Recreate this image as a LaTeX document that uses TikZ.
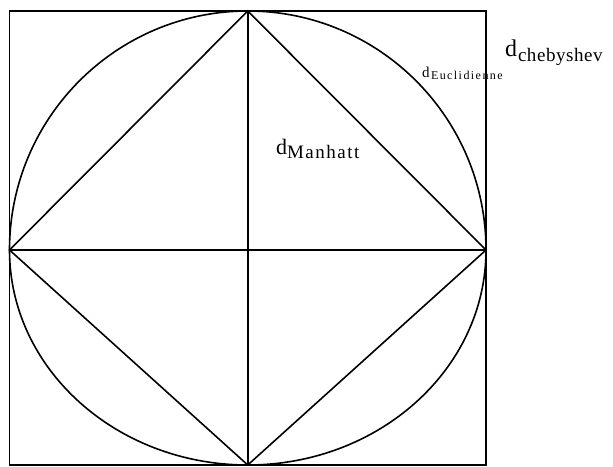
\documentclass[tikz,border=0pt]{standalone}
\usepackage{fontspec}
\setmainfont{Liberation Serif}
\newfontfamily\subA[LetterSpace=3]{Liberation Serif}
\newfontfamily\subB[LetterSpace=12]{Liberation Serif}
\newfontfamily\subC[LetterSpace=8]{Liberation Serif}
\begin{document}
\begin{tikzpicture}[x=1pt,y=1pt,
  shape line/.style={line width=1.6pt, black},
  lbl/.style={inner sep=0pt, outer sep=0pt, anchor=base west}]
\useasboundingbox (0,0) rectangle (613,466);
% key points
\coordinate (C) at (247.75,216);
\coordinate (T) at (247.75,455);
\coordinate (B) at (247.75,1);
\coordinate (L) at (9.5,216);
\coordinate (R) at (486,216);
% square (Chebyshev)
\draw[shape line] (9.5,1) rectangle (486,455);
% circle (Euclidean)
\draw[shape line] (L) arc[start angle=180, end angle=0, x radius=238.25pt, y radius=239pt]
  arc[start angle=0, end angle=-180, x radius=238.25pt, y radius=215pt];
% diamond (Manhattan)
\draw[shape line, line join=miter] (T) -- (R) -- (B) -- (L) -- cycle;
% axes
\draw[shape line] (T) -- (B);
\draw[shape line] (L) -- (R);
% labels
\node[lbl, font=\fontsize{24}{26}\selectfont] (chebd) at (505,409) {d};
\node[lbl, font=\fontsize{19}{21}\subA] (chebs) at (518,404) {chebyshev};
\node[lbl, font=\fontsize{15}{17}\selectfont] (eucd) at (422,388) {d};
\node[lbl, font=\fontsize{12}{14}\subB] (eucs) at (431,386) {Euclidienne};
\node[lbl, font=\fontsize{22}{24}\selectfont] (mand) at (276,311) {d};
\node[lbl, font=\fontsize{19}{21}\subC] (mans) at (287,307) {Manhatt};
\end{tikzpicture}
\end{document}
